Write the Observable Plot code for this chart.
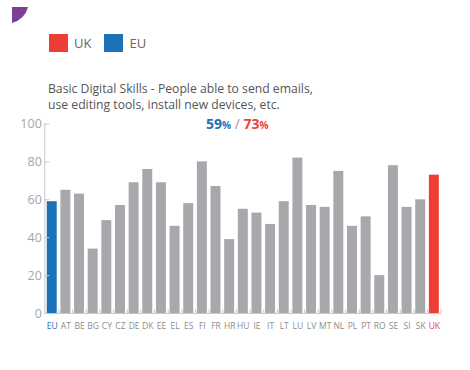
<!DOCTYPE html>
<html>
<head>
<meta charset="utf-8">
<script src="https://cdn.jsdelivr.net/npm/d3@7"></script>
<script src="https://cdn.jsdelivr.net/npm/@observablehq/plot@0.6"></script>
<style>
  body { margin: 0; background: #fff; font-family: "Open Sans", sans-serif; }
  #wrap { position: relative; width: 470px; height: 370px; overflow: hidden; }
  #wrap > * { position: absolute; }
  .sw { display: inline-block; width: 19px; height: 18px; vertical-align: middle; }
  .lg { color: #666; font-size: 13px; }
</style>
</head>
<body>
<div id="wrap">
  <svg style="left:0;top:0" width="40" height="30"><path d="M12,7 L28,7 Q25,19 12,23 Z" fill="#7b3f96"/></svg>
  <div id="legend" style="left:49px;top:30px;"></div>
  <div id="title" style="left:48px;top:81px;color:#555;font-size:12.2px;line-height:15.5px;"></div>
  <div id="summary" style="left:206px;top:114px;font-size:14px;font-weight:700;white-space:nowrap;"></div>
  <div id="chart" style="left:0;top:0"></div>
</div>
<script>
const countries = ["EU","AT","BE","BG","CY","CZ","DE","DK","EE","EL","ES","FI","FR","HR","HU","IE","IT","LT","LU","LV","MT","NL","PL","PT","RO","SE","SI","SK","UK"];
const values    = [59, 65, 63, 34, 49, 57, 69, 76, 69, 46, 58, 80, 67, 39, 55, 53, 47, 59, 82, 57, 56, 75, 46, 51, 20, 78, 56, 60, 73];
const yTicks = [0, 20, 40, 60, 80, 100];
const titleLines = ["Basic Digital Skills - People able to send emails,", "use editing tools, install new devices, etc."];
const legendItems = ["UK", "EU"];
const colors = {EU: "#1b72b8", UK: "#ee3d35", other: "#a7a8ab"};

const data = countries.map((c, i) => ({country: c, value: values[i]}));
const colorOf = c => colors[c] || colors.other;
const labelColor = c => c === "EU" ? colors.EU : c === "UK" ? colors.UK : "#8c8c8c";

document.getElementById("legend").innerHTML = legendItems.map(k =>
  `<span class="sw" style="background:${colors[k]}"></span><span class="lg" style="margin:0 13px 0 6px;vertical-align:middle">${k}</span>`).join("");
document.getElementById("title").innerHTML = titleLines.join("<br>");
const eu = values[countries.indexOf("EU")], uk = values[countries.indexOf("UK")];
document.getElementById("summary").innerHTML =
  `<span style="color:${colors.EU}">${eu}<span style="font-size:10px">%</span></span> <span style="color:#999;font-weight:400">/</span> <span style="color:${colors.UK}">${uk}<span style="font-size:10px">%</span></span>`;

const chart = Plot.plot({
  width: 470,
  height: 370,
  marginLeft: 44.3,
  marginRight: 28.7,
  marginTop: 123.5,
  marginBottom: 57,
  style: {fontFamily: "Open Sans, sans-serif", background: "transparent"},
  x: {domain: countries, paddingInner: 0.27, paddingOuter: 0.18, round: false, axis: null},
  y: {domain: [0, 100], ticks: yTicks},
  marks: [
    Plot.barY(data, {x: "country", y: "value", fill: d => colorOf(d.country)}),
    Plot.frame({anchor: "left", stroke: "#c8c8c8"}),
    Plot.ruleY([0], {stroke: "#c8c8c8"}),
    Plot.ruleX(countries, {x: d => d, y1: 0, y2: 2, dx: 6.8, stroke: "#c8c8c8"}),
    Plot.axisY(yTicks, {tickSize: -5, tickPadding: 8, stroke: "#c8c8c8", fill: "#a5a5a5", fontSize: 12.5, label: null}),
    Plot.text(data, {x: "country", y: 0, dy: 13, text: "country", fill: d => labelColor(d.country), fontSize: 8.5})
  ]
});
document.getElementById("chart").appendChild(chart);
</script>
</body>
</html>
